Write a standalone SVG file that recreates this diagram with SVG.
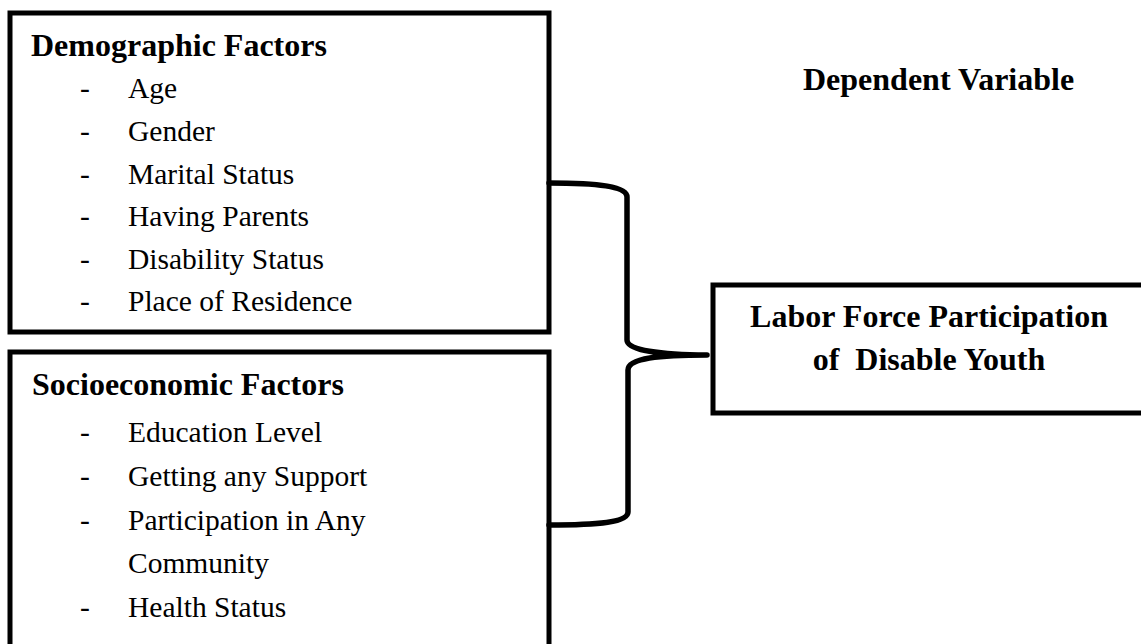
<svg xmlns="http://www.w3.org/2000/svg" width="1141" height="644" viewBox="0 0 1141 644">
<style>
.box{fill:#fff;stroke:#000;stroke-width:5}
.t{font-family:"Liberation Serif","Times New Roman",serif;fill:#000}
.b{font-weight:bold;font-size:32px}
.i{font-size:29.5px}
.brace{fill:none;stroke:#000;stroke-width:5.5;stroke-linejoin:round;stroke-linecap:round}
</style>
<rect width="1141" height="644" fill="#fff"/>
<g id="demographic">
<rect class="box" x="10" y="13" width="539" height="319"/>
<text class="t b" x="31" y="56">Demographic Factors</text>
<g class="t i">
<text x="80" y="98">-</text><text x="128" y="98">Age</text>
<text x="80" y="141">-</text><text x="128" y="141">Gender</text>
<text x="80" y="184">-</text><text x="128" y="184">Marital Status</text>
<text x="80" y="226">-</text><text x="128" y="226">Having Parents</text>
<text x="80" y="269">-</text><text x="128" y="269">Disability Status</text>
<text x="80" y="311">-</text><text x="128" y="311">Place of Residence</text>
</g>
</g>
<g id="socioeconomic">
<rect class="box" x="10" y="352" width="539" height="320"/>
<text class="t b" x="32" y="395">Socioeconomic Factors</text>
<g class="t i">
<text x="80" y="442">-</text><text x="128" y="442">Education Level</text>
<text x="80" y="486">-</text><text x="128" y="486">Getting any Support</text>
<text x="80" y="530">-</text><text x="128" y="530">Participation in Any</text>
<text x="128" y="573">Community</text>
<text x="80" y="617">-</text><text x="128" y="617">Health Status</text>
</g>
</g>
<g id="dependent-label">
<text class="t b" x="803" y="90">Dependent Variable</text>
</g>
<g id="labor-force">
<rect class="box" x="713" y="285" width="500" height="128"/>
<text class="t b" x="929" y="327" text-anchor="middle">Labor Force Participation</text>
<text class="t b" x="929" y="370" text-anchor="middle" xml:space="preserve">of  Disable Youth</text>
</g>
<g id="connectors">
<path class="brace" d="M549 183 C600 183 627 187 627 197 L627 340 C627 350 660 355 707 355 C660 355 628 358 628 370 L628 512 C628 522 600 525 549 525"/>
</g>
</svg>
